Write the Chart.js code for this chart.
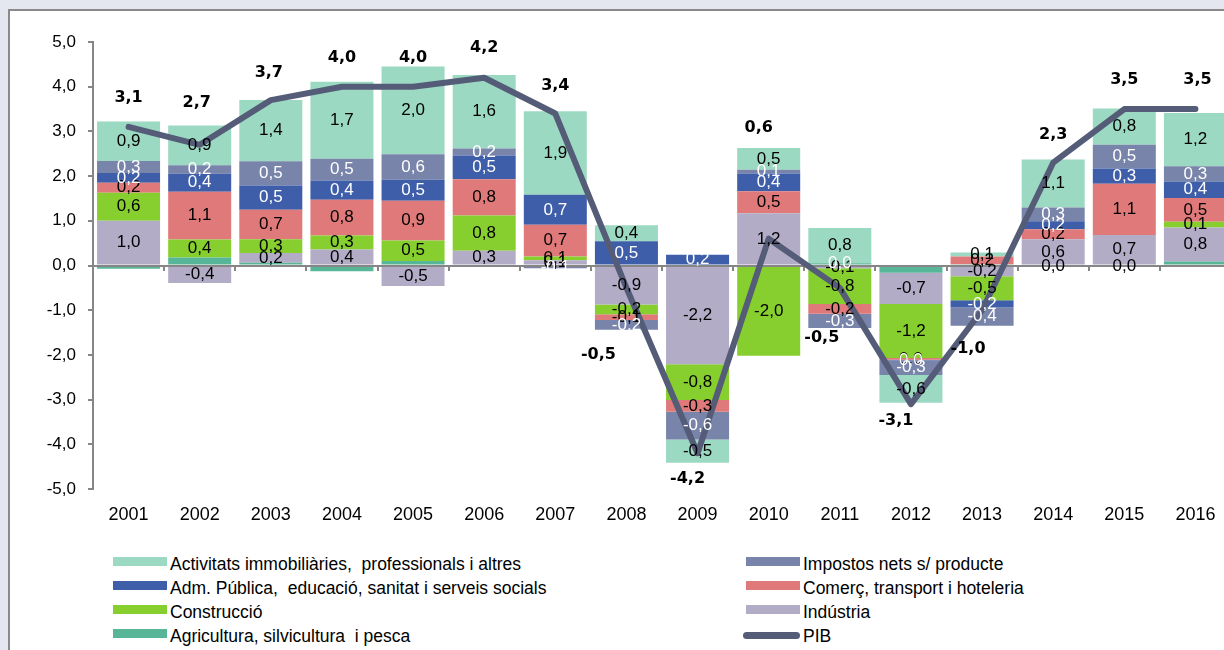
<!DOCTYPE html>
<html>
<head>
<meta charset="utf-8">
<script src="https://cdn.jsdelivr.net/npm/chart.js@4.4.0/dist/chart.umd.min.js"></script>
<style>
  html, body { margin:0; padding:0; width:1224px; height:650px; overflow:hidden; background:#e4e7ef; }
  #panel { position:absolute; left:8px; top:9px; width:1300px; height:700px; background:#fff;
           border-top:2px solid #8a8a8a; border-left:2px solid #8a8a8a; }
  #cv { position:absolute; left:0; top:0; }
  #legend { position:absolute; left:0; top:0; font-family:"Liberation Sans", Arial, sans-serif; font-size:17.5px; color:#000; }
  .txt { position:absolute; white-space:pre; height:20px; line-height:20px; }
  .sw { position:absolute; }
</style>
</head>
<body>
<div id="panel"></div>
<canvas id="cv" width="1240" height="540"></canvas>
<div id="legend"></div>
<script>
// years
const years = ['2001','2002','2003','2004','2005','2006','2007','2008','2009','2010','2011','2012','2013','2014','2015','2016'];

// contributions to growth (pp)
const agricultura = [-0.07, 0.18, 0.06, -0.13, 0.10, 0.00, 0.00, 0.00, 0.00, 0.00, 0.05, -0.16, 0.03, 0.00, 0.00, 0.09];
const industria   = [1.00, -0.39, 0.22, 0.36, -0.46, 0.33, 0.12, -0.87, -2.21, 1.17, -0.06, -0.70, -0.24, 0.59, 0.68, 0.76];
const construccio = [0.63, 0.40, 0.31, 0.31, 0.46, 0.79, 0.08, -0.22, -0.80, -2.02, -0.80, -1.21, -0.54, -0.02, -0.03, 0.13];
const comerc      = [0.22, 1.07, 0.66, 0.80, 0.89, 0.81, 0.71, -0.13, -0.26, 0.49, -0.22, -0.04, 0.17, 0.22, 1.15, 0.53];
const admPublica  = [0.22, 0.40, 0.54, 0.43, 0.47, 0.53, 0.67, 0.54, 0.24, 0.40, 0.00, -0.01, -0.16, 0.18, 0.34, 0.37];
const impostos    = [0.27, 0.19, 0.54, 0.49, 0.57, 0.16, -0.06, -0.22, -0.62, 0.08, -0.32, -0.33, -0.41, 0.31, 0.53, 0.34];
const activitats  = [0.88, 0.89, 1.37, 1.72, 1.96, 1.64, 1.87, 0.36, -0.52, 0.49, 0.79, -0.62, 0.09, 1.07, 0.81, 1.19];
const pib         = [3.1, 2.7, 3.7, 4.0, 4.0, 4.2, 3.4, -0.5, -4.2, 0.6, -0.5, -3.1, -1.0, 2.3, 3.5, 3.5];

// where the PIB labels sit, relative to the point (px)
const pibLabelShift = [[0,-29],[-3,-42],[-2,-27],[0,-29],[0,-29],[0,-30],[0,-28],[-28,67],[-10,26],[-10,-111],[-18,50],[-15,17],[-14,39],[0,-28],[0,-29],[2,-29]];

const fmt = v => {
  let s = v.toFixed(1);
  if (s === '-0.0') s = '0.0';
  return s.replace('.', ',');
};

function bar(label, data, color, labelColor) {
  return { type:'bar', label, data, backgroundColor:color, borderWidth:0,
           barPercentage:0.886, categoryPercentage:1, order:1, labelColor };
}

const datasets = [
  bar('Agricultura, silvicultura  i pesca', agricultura, '#58b698', null),
  bar('Indústria', industria, '#b3acc6', '#000'),
  bar('Construcció', construccio, '#86cf2e', '#000'),
  bar('Comerç, transport i hoteleria', comerc, '#e07a7a', '#000'),
  bar('Adm. Pública,  educació, sanitat i serveis socials', admPublica, '#3e5ea9', '#fff'),
  bar('Impostos nets s/ producte', impostos, '#7884a9', '#fff'),
  bar('Activitats immobiliàries,  professionals i altres', activitats, '#9cd9c2', '#000'),
  { type:'line', label:'PIB', data:pib, stack:'pib', order:0, borderColor:'#555c78', borderWidth:6,
    pointRadius:0, borderCapStyle:'round', borderJoinStyle:'round', tension:0, fill:false }
];

const axisPlugin = {
  id:'zeroAxis',
  beforeDatasetDraw(chart, args) {
    if (args.meta.type !== 'line') return;
    const ctx = chart.ctx, y = chart.scales.y;
    const y0 = Math.round(y.getPixelForValue(0));
    ctx.save();
    ctx.strokeStyle = '#868686';
    ctx.lineWidth = 2;
    ctx.beginPath();
    ctx.moveTo(chart.chartArea.left, y0);
    ctx.lineTo(chart.chartArea.right, y0);
    const w = (chart.chartArea.right - chart.chartArea.left) / years.length;
    for (let k = 0; k <= years.length; k++) {
      const xx = Math.round(chart.chartArea.left + k * w);
      ctx.moveTo(xx, y0);
      ctx.lineTo(xx, y0 + 5);
    }
    ctx.stroke();
    ctx.restore();
  },
  afterDatasetsDraw(chart) {
    const ctx = chart.ctx;
    ctx.save();
    ctx.textAlign = 'center';
    ctx.textBaseline = 'middle';
    ctx.font = '17px "Liberation Sans", Arial, sans-serif';
    chart.data.datasets.forEach((ds, di) => {
      if (!ds.labelColor) return;
      const meta = chart.getDatasetMeta(di);
      ctx.fillStyle = ds.labelColor;
      meta.data.forEach((el, i) => {
        const p = el.getProps(['x','y','base'], true);
        ctx.fillText(fmt(ds.data[i]), p.x, (p.y + p.base) / 2);
      });
    });
    const lineMeta = chart.getDatasetMeta(datasets.length - 1);
    ctx.font = 'bold 16px "DejaVu Sans", Verdana, sans-serif';
    ctx.fillStyle = '#000';
    lineMeta.data.forEach((pt, i) => {
      ctx.fillText(fmt(pib[i]), pt.x + pibLabelShift[i][0], pt.y + pibLabelShift[i][1]);
    });
    ctx.restore();
  }
};

const chart = new Chart(document.getElementById('cv'), {
  data: { labels: years, datasets },
  options: {
    responsive:false,
    animation:false,
    layout:{ padding:{ top:42, right:9, left:0, bottom:0 } },
    plugins:{ legend:{ display:false }, tooltip:{ enabled:false } },
    scales:{
      x:{ stacked:true, grid:{ display:false }, border:{ display:false },
          ticks:{ color:'#000', font:{ family:'"Liberation Sans", Arial, sans-serif', size:18 }, padding:7, maxRotation:0 },
          afterFit(s){ s.height = 51; } },
      y:{ stacked:true, min:-5, max:5,
          ticks:{ stepSize:1, color:'#000', font:{ family:'"Liberation Sans", Arial, sans-serif', size:17 }, padding:12,
                  callback:v => fmt(v) },
          grid:{ drawOnChartArea:false, color:'#868686', tickLength:5, lineWidth:2 },
          border:{ color:'#868686', width:2 },
          afterFit(s){ s.width = 93; } }
    }
  },
  plugins:[axisPlugin]
});

// legend in two columns, built from the datasets
const legend = document.getElementById('legend');
const legendItems = datasets.slice(0, 7).reverse().concat([datasets[7]]);
const colX = [113, 746];
legendItems.forEach((ds, i) => {
  const col = i % 2, row = Math.floor(i / 2);
  const cy = 564 + row * 24;
  const sw = document.createElement('div');
  sw.className = 'sw';
  if (ds.type === 'line') {
    sw.style.cssText = `left:${colX[col] - 3}px;top:${cy - 4}px;width:57px;height:7px;border-radius:3.5px;background:${ds.borderColor}`;
  } else {
    sw.style.cssText = `left:${colX[col]}px;top:${cy - 7}px;width:54px;height:9px;background:${ds.backgroundColor}`;
  }
  legend.appendChild(sw);
  const t = document.createElement('div');
  t.className = 'txt';
  t.style.left = (colX[col] + 57) + 'px';
  t.style.top = (cy - 10) + 'px';
  t.textContent = ds.label;
  legend.appendChild(t);
});
</script>
</body>
</html>
